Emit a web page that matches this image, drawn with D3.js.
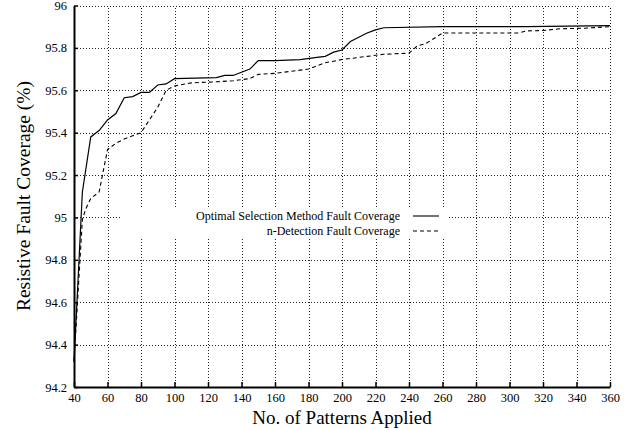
<!DOCTYPE html>
<html>
<head>
<meta charset="utf-8">
<script src="https://cdn.jsdelivr.net/npm/d3@7"></script>
<style>
  html, body { margin: 0; padding: 0; background: #fff; }
  svg { display: block; }
</style>
</head>
<body>
<svg id="chart" width="633" height="430"></svg>
<script>
// Patterns applied (x) for the optimal selection run
const optimalPatterns = [40, 45, 50, 55, 60, 65, 70, 75, 80, 85, 90, 95, 100, 125, 130, 135, 140, 145, 150, 160, 175, 185, 190, 195, 200, 205, 210, 215, 220, 225, 260, 310, 360];
// Resistive fault coverage (%) for the optimal selection method
const optimalCoverage = [94.32, 95.12, 95.38, 95.41, 95.46, 95.49, 95.565, 95.57, 95.59, 95.59, 95.625, 95.63, 95.655, 95.66, 95.67, 95.67, 95.685, 95.70, 95.74, 95.74, 95.745, 95.755, 95.76, 95.78, 95.79, 95.83, 95.85, 95.87, 95.885, 95.895, 95.90, 95.90, 95.905];

// Patterns applied (x) for the n-detection run
const nDetectPatterns = [40, 45, 47, 50, 55, 60, 65, 70, 75, 80, 85, 90, 95, 100, 110, 125, 135, 140, 145, 150, 160, 170, 180, 190, 200, 215, 225, 240, 245, 250, 260, 305, 310, 320, 330, 345, 360];
// Resistive fault coverage (%) for n-detection
const nDetectCoverage = [94.32, 94.99, 95.04, 95.09, 95.12, 95.32, 95.35, 95.37, 95.385, 95.40, 95.46, 95.52, 95.60, 95.62, 95.635, 95.64, 95.645, 95.65, 95.655, 95.675, 95.68, 95.69, 95.70, 95.73, 95.745, 95.76, 95.77, 95.775, 95.81, 95.82, 95.87, 95.87, 95.88, 95.882, 95.89, 95.893, 95.90];

const xTicks = [40, 60, 80, 100, 120, 140, 160, 180, 200, 220, 240, 260, 280, 300, 320, 340, 360];
const yTicks = [94.2, 94.4, 94.6, 94.8, 95, 95.2, 95.4, 95.6, 95.8, 96];
const seriesNames = ["Optimal Selection Method Fault Coverage", "n-Detection Fault Coverage"];

const FONT = "Liberation Serif, Times New Roman, serif";

const svg = d3.select("#chart");
const x = d3.scaleLinear().domain([40, 360]).range([74, 610]);
const y = d3.scaleLinear().domain([94.2, 96]).range([387, 5.5]);

// dotted grid
const grid = svg.append("g").attr("stroke", "#222").attr("stroke-width", 1)
  .attr("stroke-dasharray", "1,2").attr("shape-rendering", "crispEdges");
grid.selectAll("line.v").data(xTicks.slice(1)).join("line")
  .attr("class", "v")
  .attr("x1", d => Math.round(x(d)) + 0.5).attr("x2", d => Math.round(x(d)) + 0.5)
  .attr("y1", y(94.2)).attr("y2", y(96));
grid.selectAll("line.h").data(yTicks.slice(1)).join("line")
  .attr("class", "h")
  .attr("x1", x(40)).attr("x2", x(360))
  .attr("y1", d => Math.round(y(d)) + 0.5).attr("y2", d => Math.round(y(d)) + 0.5);

// key area is blanked over the grid
const keyRight = 447, keyTop = 209, keyBottom = 239, keyLeft = 120;
svg.append("rect").attr("x", keyLeft).attr("y", keyTop)
  .attr("width", keyRight - keyLeft).attr("height", keyBottom - keyTop).attr("fill", "#fff");

// axes
const xAxis = d3.axisBottom(x).tickValues(xTicks).tickFormat(d3.format("d"))
  .tickSizeInner(-5).tickSizeOuter(0).tickPadding(6);
const gx = svg.append("g").attr("transform", `translate(0,${y(94.2)})`).call(xAxis)
  .attr("font-family", FONT).attr("font-size", 12.5);
gx.select(".domain").attr("stroke-width", 2);
gx.selectAll(".tick line").attr("stroke-width", 1.5);

const yAxis = d3.axisLeft(y).tickValues(yTicks).tickFormat(d => String(+d.toFixed(1)))
  .tickSizeInner(-4).tickSizeOuter(0).tickPadding(7);
const gy = svg.append("g").attr("transform", `translate(${x(40)},0)`).call(yAxis)
  .attr("font-family", FONT).attr("font-size", 12.5);
gy.select(".domain").attr("stroke-width", 2);
gy.selectAll(".tick line").attr("stroke-width", 1.5);

// curves
const line = d3.line().x(d => x(d[0])).y(d => y(d[1]));
const optimal = optimalPatterns.map((p, i) => [p, optimalCoverage[i]]);
const nDetect = nDetectPatterns.map((p, i) => [p, nDetectCoverage[i]]);

svg.append("path").datum(nDetect).attr("d", line)
  .attr("fill", "none").attr("stroke", "#000").attr("stroke-width", 1.1)
  .attr("stroke-dasharray", "4,3");
svg.append("path").datum(optimal).attr("d", line)
  .attr("fill", "none").attr("stroke", "#000").attr("stroke-width", 1.2);

// key
const key = svg.append("g").attr("font-family", FONT);
const keyRows = [
  { name: seriesNames[0], dash: null, y: 216 },
  { name: seriesNames[1], dash: "4,3", y: 231 }
];
keyRows.forEach(r => {
  key.append("text").attr("x", 400).attr("y", r.y).attr("dy", "0.35em")
    .attr("text-anchor", "end").attr("font-size", 12).attr("fill", "#000").text(r.name);
  key.append("line").attr("x1", 413).attr("x2", 439).attr("y1", r.y).attr("y2", r.y)
    .attr("stroke", "#000").attr("stroke-width", 1.1)
    .attr("stroke-dasharray", r.dash);
});

// axis titles
svg.append("text").attr("x", 342).attr("y", 424).attr("text-anchor", "middle")
  .attr("font-family", FONT).attr("font-size", 19).attr("fill", "#000")
  .text("No. of Patterns Applied");
svg.append("text").attr("transform", "translate(30,196) rotate(-90)")
  .attr("text-anchor", "middle").attr("font-family", FONT).attr("font-size", 19.5).attr("fill", "#000")
  .text("Resistive Fault Coverage (%)");
</script>
</body>
</html>
